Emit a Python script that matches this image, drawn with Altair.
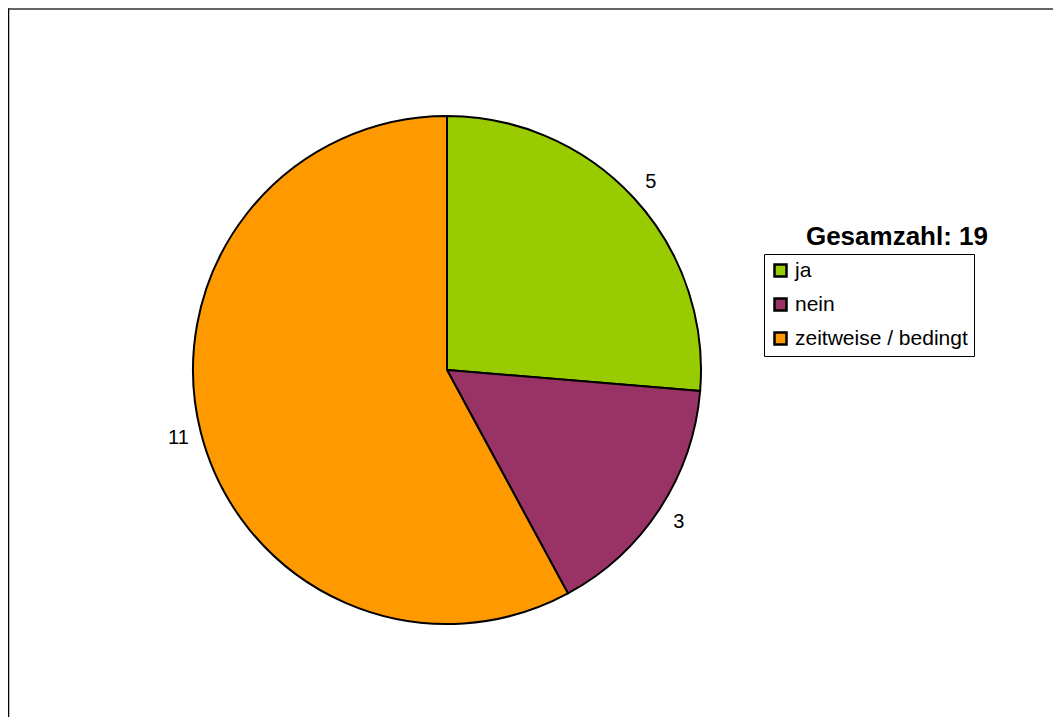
import altair as alt
import pandas as pd

categories = ["ja", "nein", "zeitweise / bedingt"]
values = [5, 3, 11]
order = [1, 2, 3]
colors = ["#99CC00", "#993366", "#FF9900"]
total_label = "Gesamzahl: 19"

df = pd.DataFrame({"kategorie": categories, "anzahl": values, "ord": order})

CX, CY = 439, 362
FONT = "Liberation Sans"

base = alt.Chart(df).encode(
    theta=alt.Theta("anzahl:Q", stack=True),
    order=alt.Order("ord:Q"),
)

pie = base.mark_arc(
    x=CX, y=CY, outerRadius=254, stroke="black", strokeWidth=2
).encode(
    color=alt.Color(
        "kategorie:N",
        scale=alt.Scale(domain=categories, range=colors),
        legend=alt.Legend(
            title=None,
            orient="none",
            legendX=756,
            legendY=246,
            padding=6,
            strokeColor="black",
            fillColor="white",
            symbolType="square",
            symbolSize=144,
            symbolStrokeColor="black",
            symbolStrokeWidth=2.5,
            labelFont=FONT,
            labelFontSize=21,
            labelColor="black",
            labelOffset=4,
            rowPadding=11,
            labelLimit=400,
        ),
    )
)

labels = base.mark_text(
    x=CX, y=CY, radius=277, font=FONT, fontSize=20, color="black",
    align="center", baseline="middle",
).encode(text=alt.Text("anzahl:Q"))

title_df = pd.DataFrame({"t": [total_label]})
title = alt.Chart(title_df).mark_text(
    font=FONT, fontSize=26, fontWeight="bold", color="black",
    align="right", baseline="alphabetic",
).encode(x=alt.value(980), y=alt.value(237), text="t:N")

frame_left = alt.Chart(title_df).mark_rule(color="black", strokeWidth=1.5).encode(
    x=alt.value(0.5), y=alt.value(0), y2=alt.value(709)
)
frame_top = alt.Chart(title_df).mark_rule(color="#333333", strokeWidth=1.5).encode(
    x=alt.value(0), x2=alt.value(1045), y=alt.value(1)
)

chart = alt.layer(pie, labels, title, frame_left, frame_top).properties(
    width=1045, height=709, padding=0, autosize="none"
).configure_view(stroke=None)

chart.save("out.html", embed_options={"renderer": "svg", "actions": False})
